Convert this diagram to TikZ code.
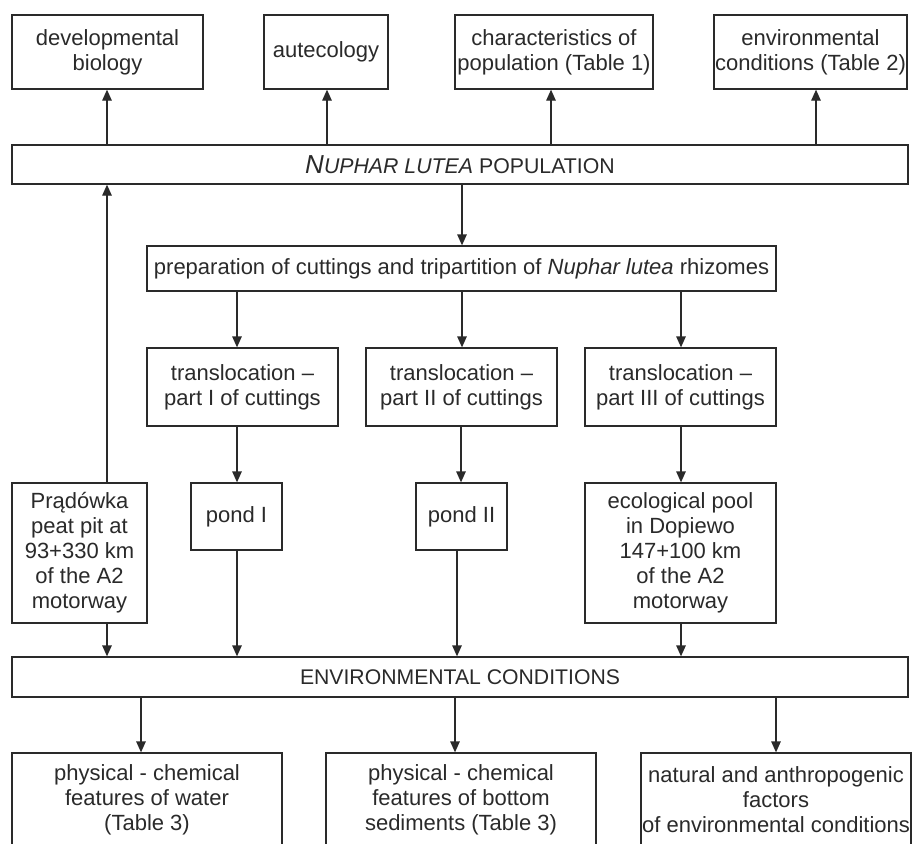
\documentclass[tikz,border=0pt]{standalone}
\usepackage{fontspec}
\setmainfont{Liberation Sans}
\usetikzlibrary{arrows.meta}
\definecolor{ink}{HTML}{2A2A2A}
\begin{document}
\begin{tikzpicture}[x=1pt,y=-1pt,
  box/.style={draw=ink, line width=1.3pt, inner sep=0pt, align=center, text=ink,
    font=\fontsize{22pt}{25pt}\selectfont},
  arr/.style={draw=ink, line width=1.3pt, -{Triangle[length=11pt,width=9.5pt]}}]
\clip (0,0) rectangle (912,843);
\fill[white] (0,0) rectangle (912,843);
% coordinates for arrow x positions
\foreach \xx in {107,141,237,327,455,457,461,462,551,681,776,816}{\coordinate (x\xx) at (\xx,0);}
% top row
\node[box, minimum width=191pt, minimum height=74pt] (dev) at (107.5,52) {developmental\\biology};
\node[box, minimum width=124pt, minimum height=74pt] (aut) at (326,52) {autecology};
\node[box, minimum width=198pt, minimum height=74pt] (char) at (554,52) {characteristics of\\population (Table 1)};
\node[box, minimum width=193pt, minimum height=74pt] (envc) at (810.5,52) {environmental\\conditions (Table 2)};
% population
\node[box, minimum width=896pt, minimum height=39pt, font=\fontsize{21.3pt}{25pt}\selectfont] (nuphar) at (460,164.5)
  {\itshape{\fontsize{26pt}{25pt}\selectfont N}UPHAR LUTEA\upshape\ POPULATION};
% preparation
\node[box, minimum width=629pt, minimum height=45pt] (prep) at (461.5,268.5)
  {preparation of cuttings and tripartition of \textit{Nuphar lutea} rhizomes};
% translocations
\node[box, minimum width=191pt, minimum height=78pt] (t1) at (242.5,387) {translocation –\\part I of cuttings};
\node[box, minimum width=191pt, minimum height=78pt] (t2) at (461.5,387) {translocation –\\part II of cuttings};
\node[box, minimum width=191pt, minimum height=78pt] (t3) at (680.5,387) {translocation –\\part III of cuttings};
% sites
\node[box, minimum width=135pt, minimum height=140pt] (prad) at (79.5,553) {Prądówka\\peat pit at\\93+330 km\\of the A2\\motorway};
\node[box, minimum width=91pt, minimum height=67pt] (pond1) at (236.5,516.5) {pond I};
\node[box, minimum width=91pt, minimum height=67pt] (pond2) at (461.5,516.5) {pond II};
\node[box, minimum width=191pt, minimum height=140pt] (eco) at (680.5,553) {ecological pool\\in Dopiewo\\147+100 km\\of the A2\\motorway};
% environmental conditions
\node[box, minimum width=896pt, minimum height=40pt, font=\fontsize{21.2pt}{25pt}\selectfont] (env) at (460,677) {ENVIRONMENTAL CONDITIONS};
% bottom row
\node[box, minimum width=270pt, minimum height=94pt] (pw) at (147,800) {physical - chemical\\features of water\\(Table 3)};
\node[box, minimum width=270pt, minimum height=94pt] (pb) at (461,800) {physical - chemical\\features of bottom\\sediments (Table 3)};
\node[box, minimum width=270pt, minimum height=94pt] (nat) at (776,800) {natural and anthropogenic\\factors\\of environmental conditions};
% arrows up from population
\draw[arr] (nuphar.north -| x107) -- (dev.south -| x107);
\draw[arr] (nuphar.north -| x327) -- (aut.south -| x327);
\draw[arr] (nuphar.north -| x551) -- (char.south -| x551);
\draw[arr] (nuphar.north -| x816) -- (envc.south -| x816);
% population to preparation
\draw[arr] (nuphar.south -| x462) -- (prep.north -| x462);
% preparation to translocations
\draw[arr] (prep.south -| x237) -- (t1.north -| x237);
\draw[arr] (prep.south -| x462) -- (t2.north -| x462);
\draw[arr] (prep.south -| x681) -- (t3.north -| x681);
% translocations to sites
\draw[arr] (t1.south -| x237) -- (pond1.north -| x237);
\draw[arr] (t2.south -| x461) -- (pond2.north -| x461);
\draw[arr] (t3.south -| x681) -- (eco.north -| x681);
% Pradowka up to population
\draw[arr] (prad.north -| x107) -- (nuphar.south -| x107);
% sites to environmental conditions
\draw[arr] (prad.south -| x107) -- (env.north -| x107);
\draw[arr] (pond1.south -| x237) -- (env.north -| x237);
\draw[arr] (pond2.south -| x457) -- (env.north -| x457);
\draw[arr] (eco.south -| x681) -- (env.north -| x681);
% environmental conditions to bottom row
\draw[arr] (env.south -| x141) -- (pw.north -| x141);
\draw[arr] (env.south -| x455) -- (pb.north -| x455);
\draw[arr] (env.south -| x776) -- (nat.north -| x776);
\end{tikzpicture}
\end{document}
